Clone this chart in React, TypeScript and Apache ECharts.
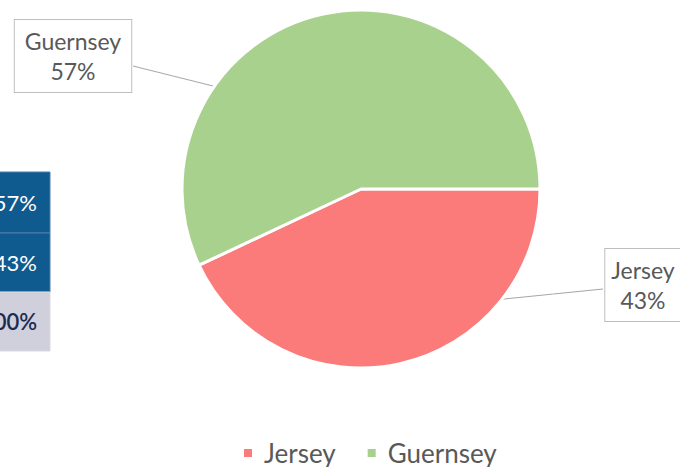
import React, { useEffect, useRef } from "react";
import * as echarts from "echarts";

const categories = ["Jersey", "Guernsey"];
const values = [43, 57];
const colors = ["#fb7b7b", "#a9d18e"];
const tableRows = ["Guernsey", "Jersey", "Total"];

export default function App() {
  const ref = useRef<HTMLDivElement>(null);
  useEffect(() => {
    if (!ref.current) return;
    const chart = echarts.init(ref.current, null, { renderer: "svg" });
    const cx = 361, cy = 189, r = 179;
    const total = values.reduce((a, b) => a + b, 0);
    const tableVals = [values[1], values[0], total].map((v) => Math.round((v / total) * 100) + "%");
    const rowTop = [172, 233, 292];
    const rowH = [61, 59, 59];
    const labelPos = [
      { x: 643, y: 285, anchorDeg: 38, end: [603, 289] },
      { x: 73, y: 56, anchorDeg: 215, end: [133, 66] },
    ];
    const graphics: any[] = [];
    tableRows.forEach((_, i) => {
      graphics.push({
        type: "rect",
        shape: { x: -2, y: rowTop[i], width: 52, height: rowH[i] },
        style: { fill: i < 2 ? "#0f5b8f" : "#cfd0dc", stroke: i < 2 ? "#4f7fa8" : "#d9d9e2", lineWidth: 1 },
        silent: true,
      });
      graphics.push({
        type: "text",
        x: 37,
        y: rowTop[i] + rowH[i] / 2,
        style: {
          text: tableVals[i],
          fill: i < 2 ? "#ffffff" : "#1e2b4f",
          font: (i < 2 ? "400" : "600") + " 22px Lato",
          textAlign: "right",
          textVerticalAlign: "middle",
        },
        silent: true,
      });
    });
    chart.setOption({
      animation: false,
      color: colors,
      legend: {
        data: categories,
        left: 237,
        top: 435,
        icon: "rect",
        itemWidth: 10,
        itemHeight: 10,
        itemGap: 30,
        textStyle: { fontFamily: "Lato", fontSize: 26, color: "#595959", padding: [0, 0, 0, 6] },
      },
      graphic: graphics,
      series: [
        {
          type: "pie",
          center: [cx, cy],
          radius: r,
          startAngle: 0,
          clockwise: true,
          avoidLabelOverlap: false,
          emphasis: { disabled: true },
          itemStyle: { borderColor: "#ffffff", borderWidth: 3 },
          label: {
            show: true,
            position: "outside",
            formatter: "{b}\n{d}%",
            fontFamily: "Lato",
            fontSize: 23,
            lineHeight: 30,
            color: "#595959",
            backgroundColor: "#ffffff",
            borderColor: "#bfbfbf",
            borderWidth: 1,
            align: "center",
          },
          labelLine: { show: true, lineStyle: { color: "#a6a6a6", width: 1 } },
          labelLayout: (params: any) => {
            const p = labelPos[params.dataIndex];
            const a = (p.anchorDeg * Math.PI) / 180;
            const sx = cx + r * Math.cos(a);
            const sy = cy + r * Math.sin(a);
            return {
              x: p.x,
              y: p.y,
              align: "center",
              verticalAlign: "middle",
              labelLinePoints: [
                [sx, sy],
                [(sx + p.end[0]) / 2, (sy + p.end[1]) / 2],
                [p.end[0], p.end[1]],
              ],
            };
          },
          data: categories.map((name, i) => ({
            name,
            value: values[i],
            label: { padding: i === 0 ? [6, 6, 6, 6] : [6, 10, 6, 10] },
          })),
        },
      ],
    });
    return () => chart.dispose();
  }, []);
  return (
    <div
      ref={ref}
      style={{ position: "absolute", left: 0, top: 0, width: 680, height: 467, background: "#ffffff" }}
    />
  );
}
